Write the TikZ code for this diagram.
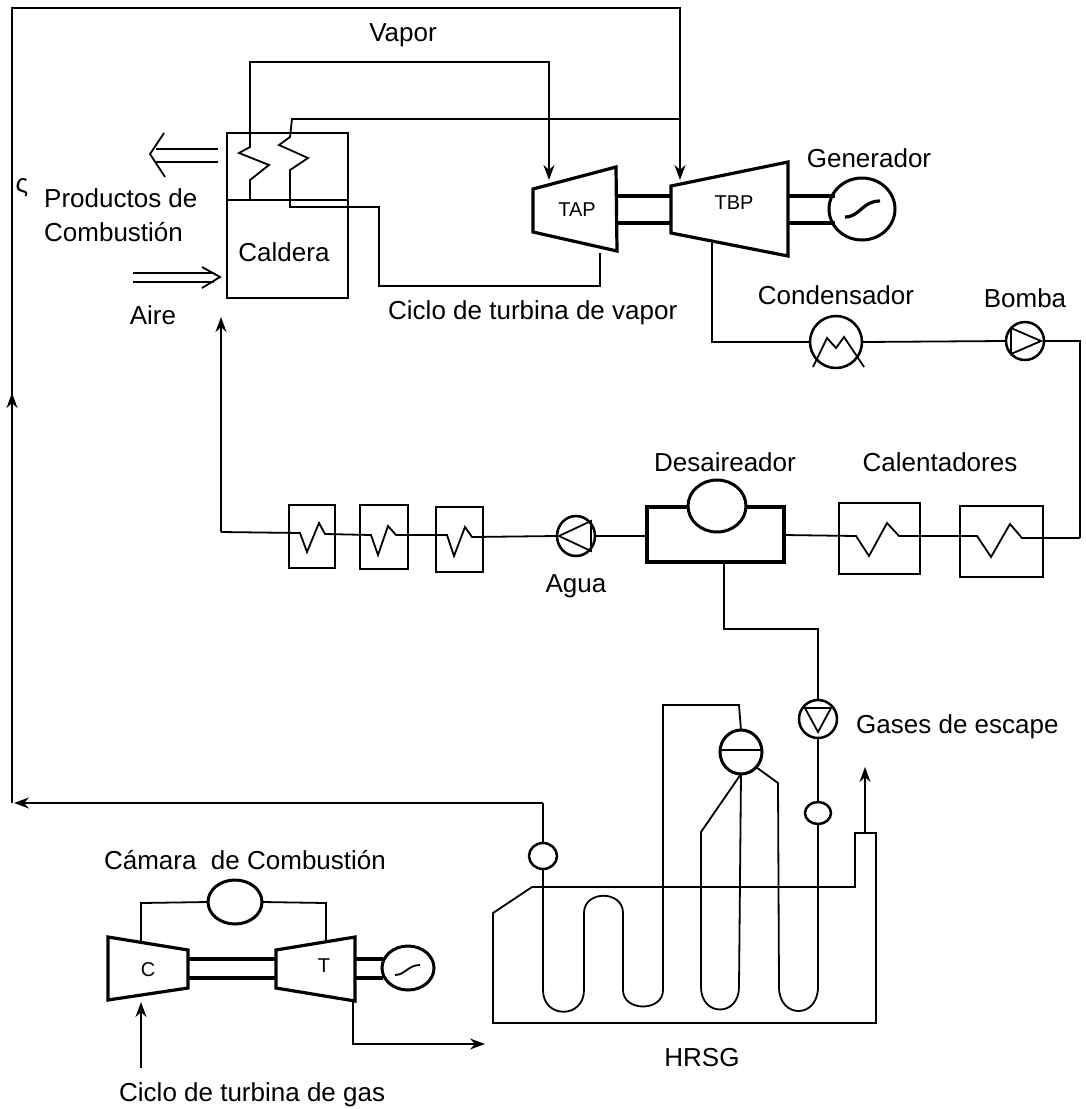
\documentclass[tikz,border=0pt]{standalone}
\usepackage{fontspec}
\setmainfont{Liberation Sans}
\usetikzlibrary{arrows.meta}
\usetikzlibrary{shapes.geometric}
\tikzset{
	linea/.style={line width=1.8pt,line join=miter},
	grueso/.style={line width=3.2pt,line join=miter},
	flecha/.style={linea,-{Stealth[length=15pt,width=11pt]}},
	etiqueta/.style={inner sep=0pt,font=\fontsize{26}{30}\selectfont},
	chica/.style={inner sep=0pt,font=\fontsize{20}{24}\selectfont},
	equipo/.style={draw,ellipse,line width=3pt,inner sep=0pt,outer sep=0pt},
	caja/.style={draw,linea,rectangle,inner sep=0pt,outer sep=0pt},
}
\begin{document}
\begin{tikzpicture}[x=1pt,y=-1pt]
\useasboundingbox (0,0) rectangle (1086,1109);
%caldera
\node[caja,minimum width=121pt,minimum height=165pt] (caldera) at (287.5,215.5) {};
\coordinate (DivA) at (227,200);
\coordinate (DivB) at (348,200);
\draw[linea] (DivA)--(DivB);
\node[etiqueta] (tcaldera) at (284,252) {Caldera};
\node[etiqueta] (tvapor) at (403,35) {Vapor};
\node[etiqueta,anchor=west] (tprod) at (44,198) {Productos de};
\node[etiqueta,anchor=west] (tcomb) at (44,232) {Combustión};
\node[etiqueta] (taire) at (153,315) {Aire};
\node[etiqueta,anchor=west] (tciclov) at (388,313) {Ciclo de turbina de vapor};
\node[etiqueta] (tmarca) at (22,188) {ς};
%turbinas de vapor
\coordinate (TapA) at (533,189);
\coordinate (TapB) at (616,167);
\coordinate (TapC) at (617,251);
\coordinate (TapD) at (533,232);
\coordinate (TbpA) at (671,186);
\coordinate (TbpB) at (788,162);
\coordinate (TbpC) at (788,256);
\coordinate (TbpD) at (671,233);
\draw[grueso] (TapA)--(TapB)--(TapC)--(TapD)--cycle;
\draw[grueso] (TbpA)--(TbpB)--(TbpC)--(TbpD)--cycle;
\node[chica] (ttap) at (577,210) {TAP};
\node[chica] (ttbp) at (734,203) {TBP};
\node[equipo,minimum width=66pt,minimum height=62pt] (gen) at (862,209) {};
\node[etiqueta] (tgen) at (869,158) {Generador};
\draw[grueso] (616,196)--(671,196);
\draw[grueso] (616,223)--(671,223);
\draw[grueso] (788,196)--(835,196);
\draw[grueso] (788,223)--(835,223);
\draw[grueso] (845,217) .. controls (860,217) and (862,201) .. (880,201);
%vapor
\coordinate (VapIni) at (250,200);
\coordinate (VapFin) at (549,180);
\coordinate (RecIni) at (290,207);
\coordinate (TopFin) at (680,180);
\draw[flecha] (VapIni)--(250,180)--(269,165)--(239,153)--(250,147)--(250,62)--(549,62)--(VapFin);
\draw[flecha] (12,395)--(12,8)--(680,8)--(TopFin);
\draw[linea] (680,119)--(292,119)--(290,137)--(279,145)--(308,158)--(290,170)--(RecIni)--(379,207)--(379,286)--(600,286)--(600,253);
%doble flecha
\draw[linea] (218,149)--(156,149);
\draw[linea] (218,162)--(156,162);
\draw[linea] (164,133)--(150,154)--(165,177);
\draw[linea] (133,273)--(214,273);
\draw[linea] (133,282)--(214,282);
\draw[linea] (202,267)--(220,277)--(202,288);
%condensador y bomba
\node[equipo,minimum width=52pt,minimum height=52pt,line width=2.5pt] (cond) at (836,342) {};
\node[etiqueta] (tcond) at (836,295) {Condensador};
\node[equipo,minimum width=38pt,minimum height=38pt,line width=2.5pt] (bomba) at (1025,341) {};
\node[etiqueta] (tbomba) at (1025,298) {Bomba};
\draw[linea] (712,243)--(712,342)--(cond.west);
\draw[linea] (cond.east)--(bomba.west);
\draw[linea] (bomba.east)--(1080,341)--(1080,538);
\draw[linea] (813,367)--(827,338)--(836,348)--(844,337)--(864,367);
\draw[linea] (1011,328)--(1041,341)--(1011,354)--cycle;
%linea de agua
\node[caja,minimum width=46pt,minimum height=63pt] (cal1) at (312,536.5) {};
\node[caja,minimum width=48pt,minimum height=64pt] (cal2) at (384,537) {};
\node[caja,minimum width=47pt,minimum height=65pt] (cal3) at (459.5,539.5) {};
\node[equipo,minimum width=38pt,minimum height=40pt,line width=2.5pt] (agua) at (576,536) {};
\node[etiqueta] (tagua) at (576,586) {Agua};
\node[caja,grueso,minimum width=137pt,minimum height=55pt] (desa) at (715.5,534.5) {};
\node[equipo,fill=white,minimum width=58pt,minimum height=52pt] (domo) at (717,506) {};
\node[etiqueta] (tdesa) at (725,462) {Desaireador};
\node[caja,minimum width=81pt,minimum height=71pt] (cal4) at (879.5,538.5) {};
\node[caja,minimum width=83pt,minimum height=71pt] (cal5) at (1001.5,541.5) {};
\node[etiqueta] (tcal) at (940,462) {Calentadores};
\coordinate (AguaFin) at (221,532);
\draw[linea] (desa.east|-0,535)--(856,536)--(869,556)--(887,523)--(899,536)--(977,536)--(991,557)--(1010,524)--(1022,538)--(1080,538);
\draw[linea] (desa.west|-0,536)--(agua.east);
\draw[linea] (agua.west)--(472,537)--(465,527)--(454,556)--(447,535)--(396,535)--(388,526)--(378,555)--(371,535)--(325,534)--(319,523)--(307,552)--(300,533)--(AguaFin);
\draw[flecha] (AguaFin)--(221,317);
\draw[linea] (559,536)--(591,521)--(591,551)--cycle;
%hrsg
\node[equipo,minimum width=38pt,minimum height=38pt,line width=2.5pt] (bgas) at (818,719) {};
\node[etiqueta,anchor=west] (tgases) at (856,727) {Gases de escape};
\draw[linea] (724,562)--(724,629)--(818,629)--(bgas.north);
\draw[linea] (805,708)--(831,708)--(818,732)--cycle;
\node[equipo,minimum width=26pt,minimum height=22pt,line width=2.5pt] (ev1) at (818,813) {};
\node[equipo,minimum width=28pt,minimum height=26pt,line width=2.5pt] (ev2) at (543,856) {};
\node[equipo,minimum width=42pt,minimum height=44pt] (drum) at (741,752) {};
\draw[linea] (720,750)--(762,750);
\draw[linea] (bgas.south)--(ev1.north);
\draw[linea] (ev1.south)--(818,987) .. controls (818,1019) and (779,1019) .. (779,987)--(778,783)--(drum.-45);
\draw[linea] (drum.north)--(739,705)--(663,705)--(663,990) .. controls (663,1012) and (623,1012) .. (623,990)--(623,913) .. controls (623,890) and (584,890) .. (584,913)--(584,990) .. controls (584,1019) and (543,1019) .. (543,990)--(ev2.south);
\draw[linea] (ev2.north)--(543,803);
\draw[flecha] (543,803)--(14,803);
\draw[flecha] (12,803)--(12,393);
\draw[linea] (drum.south)--(739,987) .. controls (739,1017) and (701,1017) .. (701,987)--(701,832)--(drum.south);
\draw[linea] (493,913)--(532,887)--(855,887)--(855,833)--(876,833)--(876,1023)--(493,1023)--cycle;
\draw[flecha] (865,833)--(865,767);
\node[etiqueta] (thrsg) at (702,1058) {HRSG};
%turbina de gas
\coordinate (CompA) at (108,937);
\coordinate (CompB) at (188,950);
\coordinate (CompC) at (188,988);
\coordinate (CompD) at (108,1000);
\coordinate (TurbA) at (276,950);
\coordinate (TurbB) at (355,937);
\coordinate (TurbC) at (355,1001);
\coordinate (TurbD) at (276,988);
\draw[grueso] (CompA)--(CompB)--(CompC)--(CompD)--cycle;
\draw[grueso] (TurbA)--(TurbB)--(TurbC)--(TurbD)--cycle;
\node[chica] (tc) at (148,970) {C};
\node[chica] (tt) at (324,966) {T};
\node[equipo,minimum width=54pt,minimum height=44pt] (cam) at (235,902) {};
\node[etiqueta] (tcam) at (245,860) {Cámara\ \ de Combustión};
\node[equipo,minimum width=52pt,minimum height=44pt] (gen2) at (408,968) {};
\draw[grueso] (188,959)--(276,959);
\draw[grueso] (188,978)--(276,978);
\draw[grueso] (355,959)--(383,959);
\draw[grueso] (355,978)--(383,978);
\draw[linea] (395,975) .. controls (405,975) and (408,965) .. (420,965);
\draw[linea] (141,941)--(141,903)--(cam.west);
\draw[linea] (cam.east)--(326,903)--(326,941);
\draw[flecha] (141,1068)--(141,1002);
\draw[flecha] (353,1001)--(353,1044)--(485,1044);
\node[etiqueta,anchor=west] (tciclog) at (119,1095) {Ciclo de turbina de gas};
\end{tikzpicture}
\end{document}
